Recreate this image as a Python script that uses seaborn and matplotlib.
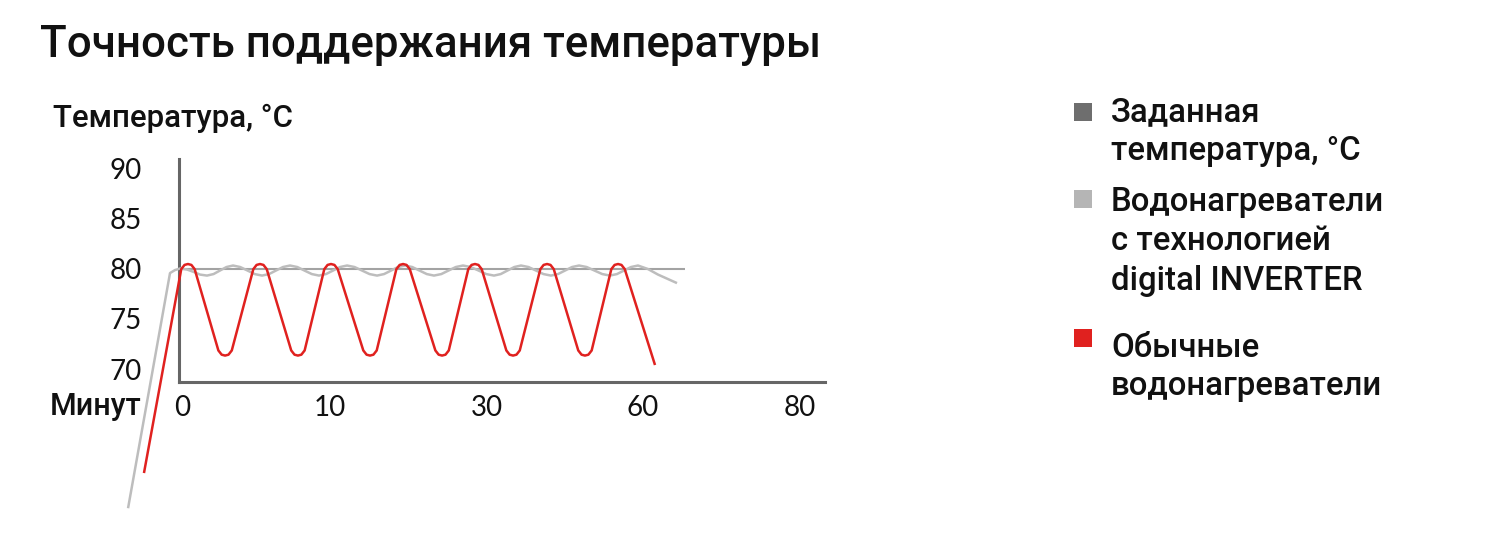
import matplotlib
matplotlib.use("Agg")
import matplotlib.pyplot as plt
from matplotlib.patches import Rectangle
import seaborn as sns
import pandas as pd

# ---------------- data ----------------
TITLE = "Точность поддержания температуры"
Y_LABEL = "Температура, °C"
X_LABEL = "Минут"
Y_TICKS = [90, 85, 80, 75, 70]
X_TICK_POS = [0.045, 0.99, 2.0, 3.0, 4.006]
X_TICK_LABELS = ["0", "10", "30", "60", "80"]

LEGEND_LABELS = ["Заданная\nтемпература, °C",
                 "Водонагреватели\nс технологией\ndigital INVERTER",
                 "Обычные\nводонагреватели"]

# set temperature
SET_X = [0.026, 3.269]
SET_Y = [80.0, 80.0]

# conventional heater (red)
RED_X = [-0.199,
         0.040, 0.061, 0.083, 0.105, 0.126,
         0.278, 0.299, 0.321, 0.343, 0.364,
         0.502, 0.523, 0.545, 0.567, 0.588,
         0.745, 0.766, 0.788, 0.810, 0.831,
         0.957, 0.978, 1.000, 1.022, 1.043,
         1.207, 1.228, 1.250, 1.272, 1.293,
         1.419, 1.440, 1.462, 1.484, 1.505,
         1.669, 1.690, 1.712, 1.734, 1.755,
         1.880, 1.901, 1.923, 1.945, 1.966,
         2.124, 2.145, 2.167, 2.189, 2.210,
         2.342, 2.363, 2.385, 2.407, 2.428,
         2.585, 2.606, 2.628, 2.650, 2.671,
         2.797, 2.818, 2.840, 2.862, 2.883,
         3.077]
RED_Y = [59.65,
         79.94, 80.36, 80.45, 80.36, 79.94,
         71.85, 71.43, 71.34, 71.43, 71.85,
         79.94, 80.36, 80.45, 80.36, 79.94,
         71.85, 71.43, 71.34, 71.43, 71.85,
         79.94, 80.36, 80.45, 80.36, 79.94,
         71.85, 71.43, 71.34, 71.43, 71.85,
         79.94, 80.36, 80.45, 80.36, 79.94,
         71.85, 71.43, 71.34, 71.43, 71.85,
         79.94, 80.36, 80.45, 80.36, 79.94,
         71.85, 71.43, 71.34, 71.43, 71.85,
         79.94, 80.36, 80.45, 80.36, 79.94,
         71.85, 71.43, 71.34, 71.43, 71.85,
         79.94, 80.36, 80.45, 80.36, 79.94,
         70.40]

# digital INVERTER heater (light gray)
INV_X = [-0.301, -0.032, 0.000, 0.032,
         0.077, 0.122, 0.160, 0.205,
         0.247, 0.288, 0.330, 0.372,
         0.418, 0.465, 0.511, 0.558,
         0.603, 0.647, 0.692, 0.737,
         0.784, 0.830, 0.877, 0.923,
         0.968, 1.013, 1.058, 1.103,
         1.151, 1.199, 1.247, 1.295,
         1.340, 1.385, 1.429, 1.474,
         1.521, 1.567, 1.614, 1.660,
         1.707, 1.753, 1.800, 1.846,
         1.896, 1.946, 1.995, 2.045,
         2.088, 2.131, 2.175, 2.218,
         2.266, 2.314, 2.362, 2.410,
         2.455, 2.500, 2.545, 2.590,
         2.639, 2.689, 2.739, 2.788,
         2.833, 2.878, 2.923, 2.968,
         3.032, 3.096, 3.218]
INV_Y = [56.15, 79.55, 79.85, 80.00,
         79.90, 79.65, 79.40, 79.30,
         79.45, 79.80, 80.15, 80.30,
         80.15, 79.80, 79.45, 79.30,
         79.45, 79.80, 80.15, 80.30,
         80.15, 79.80, 79.45, 79.30,
         79.45, 79.80, 80.15, 80.30,
         80.15, 79.80, 79.45, 79.30,
         79.45, 79.80, 80.15, 80.30,
         80.15, 79.80, 79.45, 79.30,
         79.45, 79.80, 80.15, 80.30,
         80.15, 79.80, 79.45, 79.30,
         79.45, 79.80, 80.15, 80.30,
         80.15, 79.80, 79.45, 79.30,
         79.45, 79.80, 80.15, 80.30,
         80.15, 79.80, 79.45, 79.30,
         79.45, 79.80, 80.15, 80.30,
         79.95, 79.40, 78.55]

# ---------------- style ----------------
sns.set_theme(style="white")
plt.rcParams['font.family'] = ['Roboto', 'DejaVu Sans']

C_SET = "#a3a3a3"
C_SET_KEY = "#6e6e6e"
C_INV = "#bdbdbd"
C_INV_KEY = "#b5b5b5"
C_RED = "#e0211f"
AX_COL = "#666666"
TXT = "#111111"

W, H = 1492, 549
fig = plt.figure(figsize=(W / 100, H / 100), dpi=100)
ax = fig.add_axes([179 / W, 1 - 382 / H, (825 - 179) / W, (382 - 159) / H])
ax.set_facecolor("none")

set_df = pd.DataFrame({"x": SET_X, "y": SET_Y})
inv_df = pd.DataFrame({"x": INV_X, "y": INV_Y})
red_df = pd.DataFrame({"x": RED_X, "y": RED_Y})

sns.lineplot(data=set_df, x="x", y="y", sort=False, estimator=None,
             color=C_SET, linewidth=1.5, ax=ax)
sns.lineplot(data=inv_df, x="x", y="y", sort=False, estimator=None,
             color=C_INV, linewidth=1.8, ax=ax)
sns.lineplot(data=red_df, x="x", y="y", sort=False, estimator=None,
             color=C_RED, linewidth=1.8, ax=ax)
for ln in ax.lines:
    ln.set_clip_on(False)
    ln.set_solid_joinstyle("round")
    ln.set_solid_capstyle("butt")

ax.set_xlim(0.0256, 4.1667)
ax.set_ylim(68.71, 90.90)
ax.set_xlabel("")
ax.set_ylabel("")

for s in ["top", "right"]:
    ax.spines[s].set_visible(False)
for s in ["left", "bottom"]:
    ax.spines[s].set_color(AX_COL)
    ax.spines[s].set_linewidth(2.2)
    ax.spines[s].set_zorder(0.5)

tick_font = dict(family=['Lato', 'DejaVu Sans'], weight='normal', size=20)
ax.set_yticks(Y_TICKS)
ax.set_yticklabels([str(v) for v in Y_TICKS], fontdict=tick_font)
ax.set_xticks(X_TICK_POS)
ax.set_xticklabels(X_TICK_LABELS, fontdict=tick_font)
ax.tick_params(axis="both", length=0, labelcolor=TXT)
ax.tick_params(axis="y", pad=27)
ax.tick_params(axis="x", pad=9)

# texts
fig.text(40 / W, 1 - 57 / H, TITLE, fontsize=31.6, fontweight="medium",
         color=TXT, ha="left", va="baseline")
fig.text(53 / W, 1 - 127 / H, Y_LABEL, fontsize=22.5, fontweight="medium",
         color=TXT, ha="left", va="baseline")
fig.text(141 / W, 1 - 415 / H, X_LABEL, fontsize=22, fontweight="medium",
         color=TXT, ha="right", va="baseline")

# legend (manual)
key_cols = [C_SET_KEY, C_INV_KEY, C_RED]
line_baselines = [[121, 160], [211, 250, 290], [357, 395]]
key_tops = [103, 190, 329]
for lab, col, bls, kt in zip(LEGEND_LABELS, key_cols, line_baselines, key_tops):
    fig.patches.append(Rectangle((1074 / W, 1 - (kt + 18) / H), 18 / W, 18 / H,
                                 transform=fig.transFigure, facecolor=col,
                                 edgecolor="none", figure=fig))
    for line, bl in zip(lab.split("\n"), bls):
        fig.text(1111 / W, 1 - bl / H, line, fontsize=23.7, fontweight="medium",
                 color=TXT, ha="left", va="baseline")

fig.savefig("out.png", dpi=100)
